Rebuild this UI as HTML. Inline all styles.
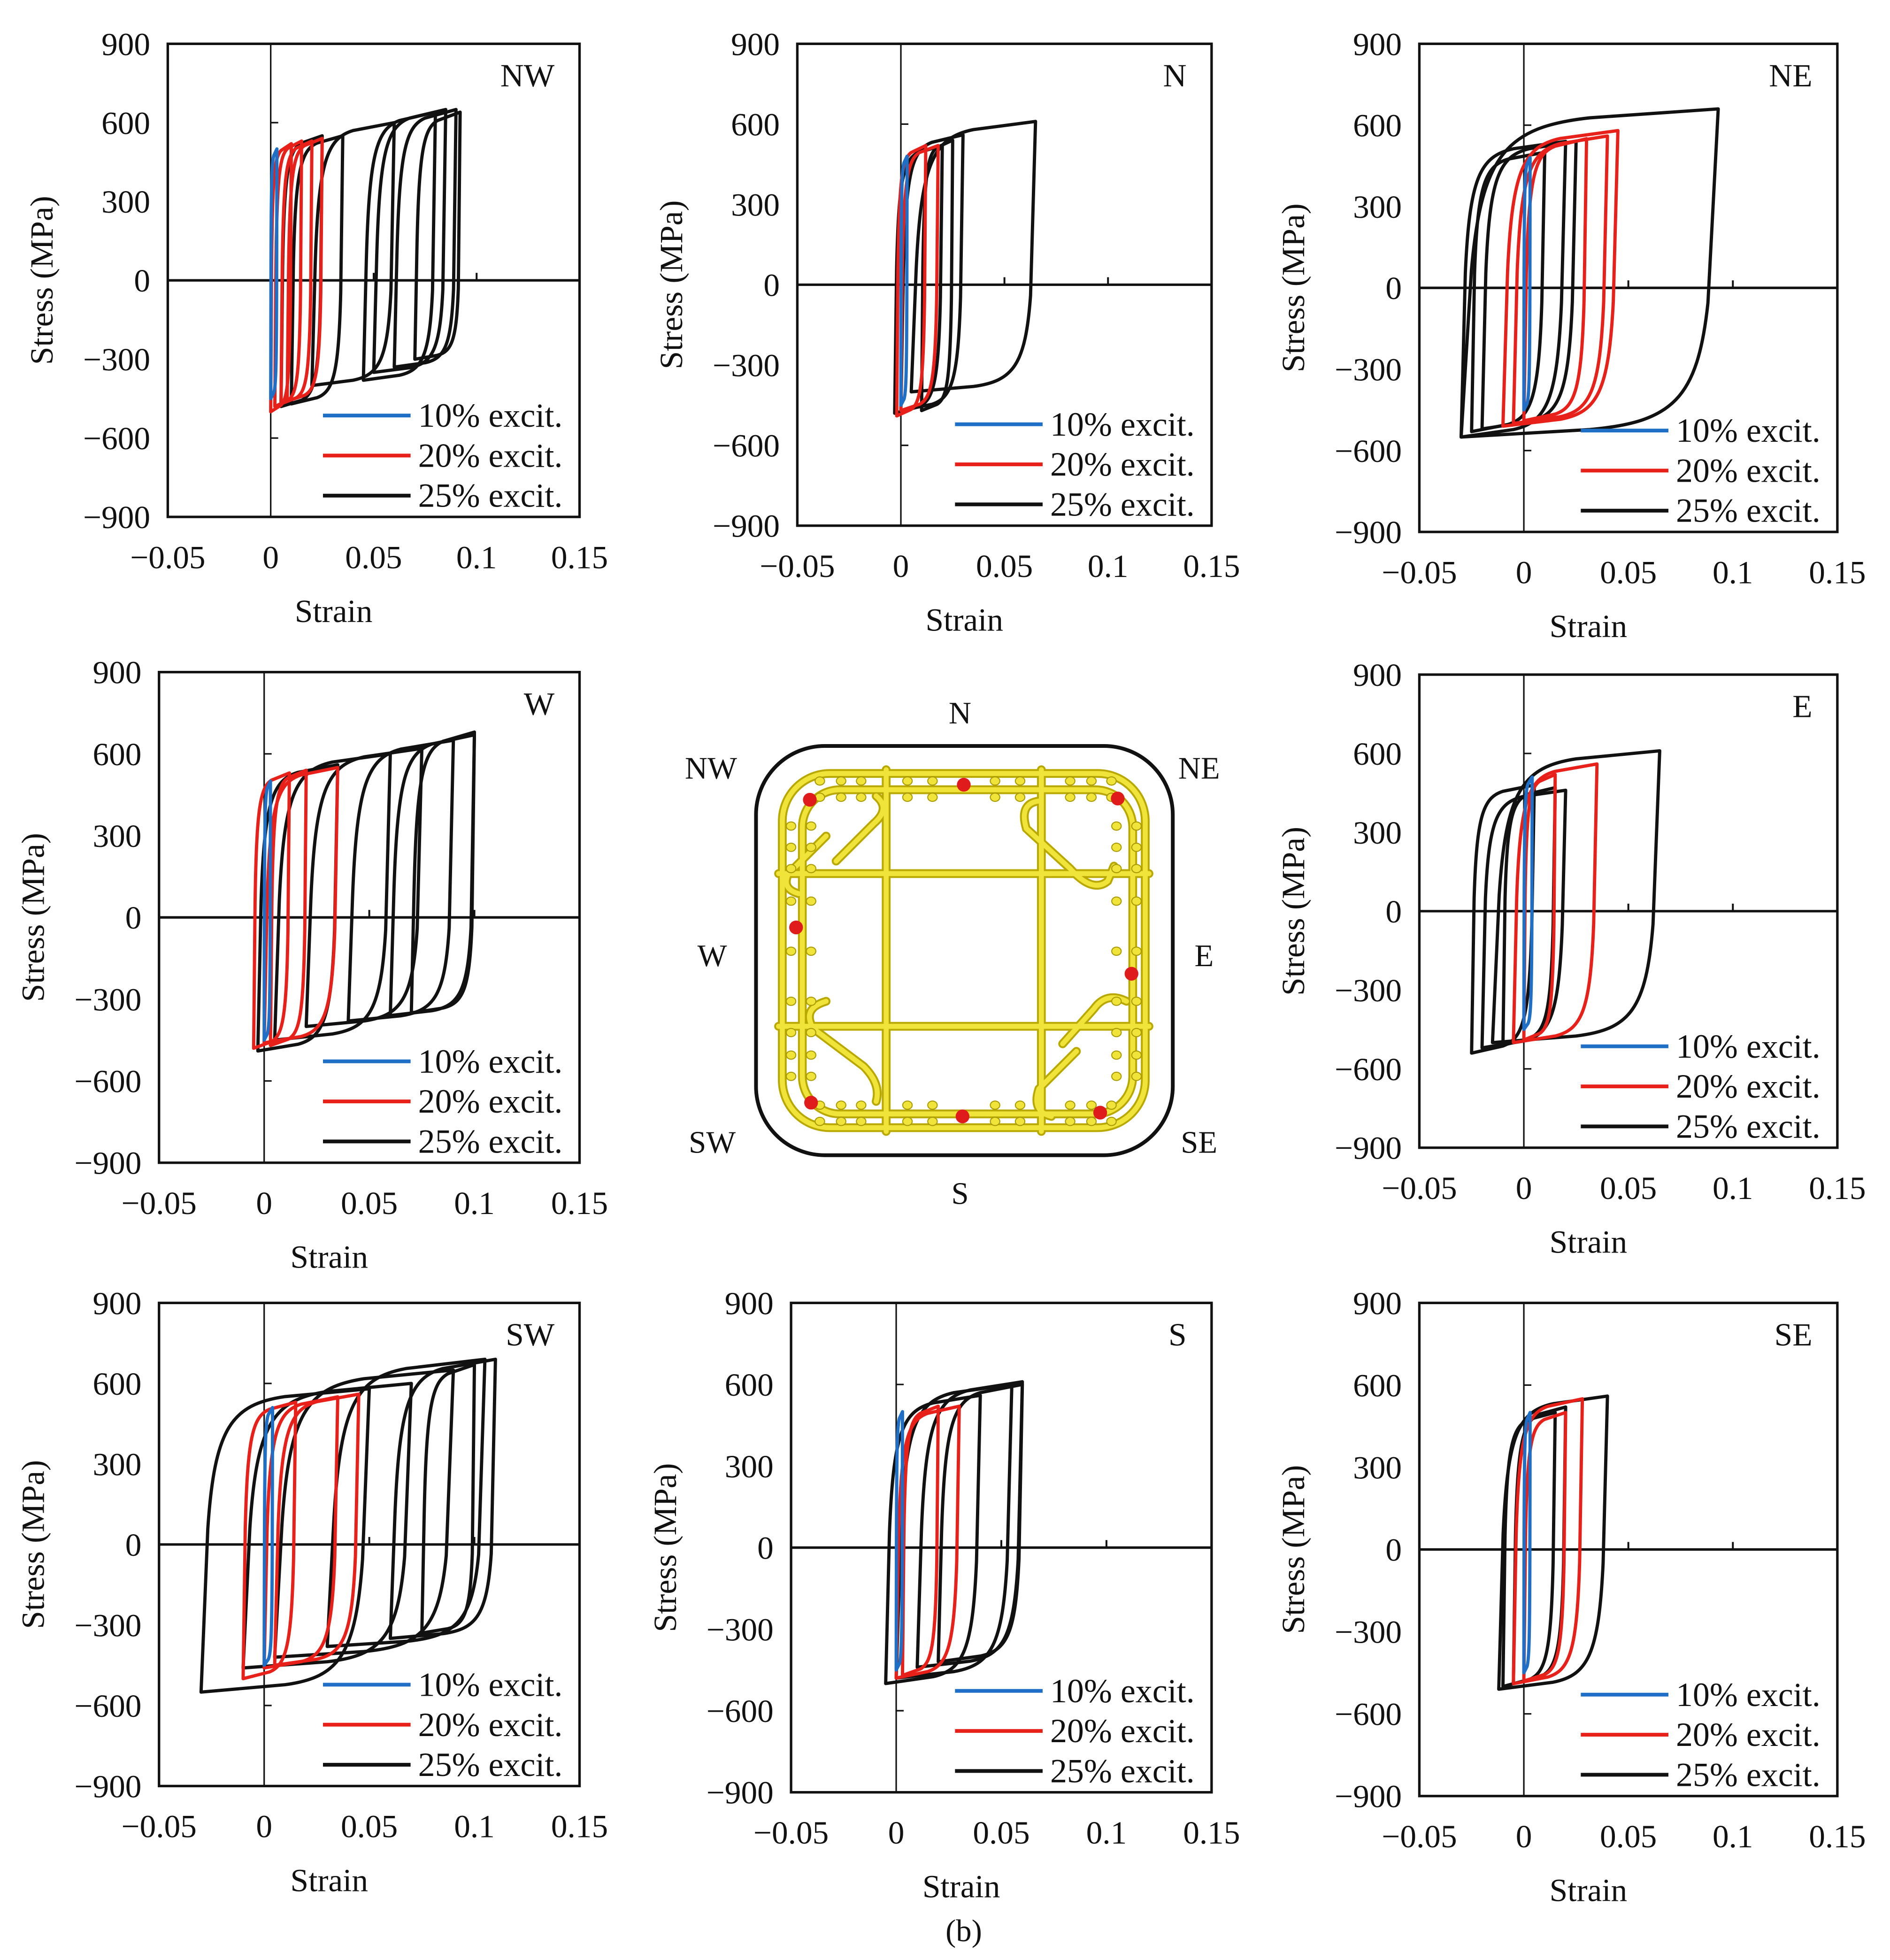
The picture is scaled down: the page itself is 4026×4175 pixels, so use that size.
<!DOCTYPE html>
<html><head><meta charset="utf-8">
<style>
html,body{margin:0;padding:0;background:#fff;}
svg{display:block;}
text{font-family:"Liberation Serif","DejaVu Serif",serif;fill:#111;}
</style></head>
<body>
<svg id="fig" width="4026" height="4175" viewBox="0 0 1510 1566" xmlns="http://www.w3.org/2000/svg">
<rect x="0" y="0" width="1510" height="1566" fill="#fff"/>
<g id="panels"></g>
<g id="section">
  <rect x="604" y="596" width="333" height="327" rx="55" fill="#fff" stroke="#111" stroke-width="3"/>
  <g fill="none" stroke="#b8a800" stroke-width="7" stroke-linecap="round">
    <rect x="625" y="618" width="290" height="283" rx="38"/>
    <rect x="641" y="631" width="264" height="259" rx="30"/>
    <line x1="622" y1="698" x2="918" y2="698"/>
    <line x1="622" y1="820" x2="918" y2="820"/>
    <line x1="708" y1="615" x2="708" y2="904"/>
    <line x1="832" y1="615" x2="832" y2="904"/>
    <path d="M700,636 q12,10 -2,22 l-30,30 M660,668 l-30,30 q-6,12 8,16"/>
    <path d="M830,640 q-16,2 -10,22 l35,32 q18,20 30,10 l5,-12"/>
    <path d="M660,800 q-20,6 -10,22 l40,30 q14,14 10,28"/>
    <path d="M900,800 q-16,-8 -26,6 l-25,28 M860,840 l-30,30 q-6,18 10,22"/>
  </g>
  <g fill="none" stroke="#f0e33a" stroke-width="4" stroke-linecap="round">
    <rect x="625" y="618" width="290" height="283" rx="38"/>
    <rect x="641" y="631" width="264" height="259" rx="30"/>
    <line x1="622" y1="698" x2="918" y2="698"/>
    <line x1="622" y1="820" x2="918" y2="820"/>
    <line x1="708" y1="615" x2="708" y2="904"/>
    <line x1="832" y1="615" x2="832" y2="904"/>
    <path d="M700,636 q12,10 -2,22 l-30,30 M660,668 l-30,30 q-6,12 8,16"/>
    <path d="M830,640 q-16,2 -10,22 l35,32 q18,20 30,10 l5,-12"/>
    <path d="M660,800 q-20,6 -10,22 l40,30 q14,14 10,28"/>
    <path d="M900,800 q-16,-8 -26,6 l-25,28 M860,840 l-30,30 q-6,18 10,22"/>
  </g>
  <g id="smallbars" fill="#f0e33a" stroke="#a89a00" stroke-width="0.8"></g>
  <g fill="#e01b1b">
    <circle cx="647" cy="639" r="5.5"/><circle cx="770" cy="627" r="5.5"/><circle cx="893" cy="638" r="5.5"/>
    <circle cx="636" cy="741" r="5.5"/><circle cx="904" cy="778" r="5.5"/><circle cx="648" cy="881" r="5.5"/>
    <circle cx="769" cy="892" r="5.5"/><circle cx="879" cy="889" r="5.5"/>
  </g>
  <g font-size="25" text-anchor="middle">
    <text x="767" y="578">N</text><text x="767" y="962">S</text>
    <text x="569" y="772">W</text><text x="962" y="772">E</text>
    <text x="568" y="622">NW</text><text x="958" y="622">NE</text>
    <text x="569" y="921">SW</text><text x="958" y="921">SE</text>
  </g>
</g>
<text x="770" y="1551" font-size="25" text-anchor="middle">(b)</text>
</svg>
<script>
// Loop data: each loop = [strainMin, strainMax, stressMax, stressMin]
const NW_black=[[0.005,0.025,550,-480],[0.01,0.035,550,-470],[0.02,0.06,600,-400],[0.045,0.08,640,-380],[0.05,0.085,650,-350],[0.06,0.09,650,-330],[0.07,0.092,640,-300]];
const NW_red=[[0,0.01,520,-500],[0.002,0.015,530,-480],[0.005,0.02,530,-470],[0.008,0.025,540,-460]];
const NW_blue=[[0,0.003,500,-450]];
const N_black=[[-0.003,0.02,520,-480],[0,0.03,560,-470],[0.005,0.065,610,-400],[0.01,0.025,540,-470]];
const N_red=[[-0.002,0.012,520,-490],[0,0.018,520,-470]];
const N_blue=[[0,0.003,480,-450]];
const NE_black=[[-0.03,0.02,540,-550],[-0.025,0.01,500,-530],[-0.02,0.025,540,-520],[-0.03,0.093,660,-550]];
const NE_red=[[-0.01,0.045,580,-510],[-0.005,0.04,560,-500],[0,0.03,550,-490]];
const NE_blue=[[0,0.003,480,-450]];
const W_black=[[-0.003,0.035,560,-490],[0.005,0.06,600,-450],[0.02,0.075,620,-400],[0.04,0.09,650,-380],[0.06,0.1,670,-360],[0.07,0.1,680,-350]];
const W_red=[[-0.005,0.012,530,-480],[0,0.035,550,-460],[0.003,0.02,540,-470]];
const W_blue=[[0,0.003,500,-450]];
const E_black=[[-0.025,0.005,480,-540],[-0.02,0.02,460,-520],[-0.015,0.065,610,-500],[-0.01,0.015,470,-510]];
const E_red=[[-0.005,0.035,560,-500],[0,0.015,520,-490]];
const E_blue=[[0,0.004,510,-450]];
const SW_black=[[-0.03,0.05,580,-550],[-0.01,0.07,600,-460],[0.005,0.09,650,-420],[0.03,0.105,690,-380],[0.06,0.11,690,-350],[0.075,0.1,670,-330]];
const SW_red=[[-0.01,0.015,530,-500],[0,0.035,550,-460],[0.005,0.045,560,-450]];
const SW_blue=[[0,0.004,510,-450]];
const S_black=[[-0.005,0.04,560,-500],[0,0.055,600,-480],[0.01,0.06,610,-440],[0.02,0.06,600,-420]];
const S_red=[[0,0.03,520,-480],[0.003,0.02,520,-470]];
const S_blue=[[0,0.003,500,-450]];
const SE_black=[[-0.012,0.04,560,-510],[-0.01,0.015,500,-500],[-0.005,0.02,520,-490]];
const SE_red=[[-0.005,0.028,550,-490],[0,0.02,500,-480]];
const SE_blue=[[0,0.003,500,-450]];
const xTicks=[-0.05,0,0.05,0.1,0.15];
const xTickLabels=["\u22120.05","0","0.05","0.1","0.15"];
const yTicks=[900,600,300,0,-300,-600,-900];
const yTickLabels=["900","600","300","0","\u2212300","\u2212600","\u2212900"];
const legendLabels=["10% excit.","20% excit.","25% excit."];

const NS="http://www.w3.org/2000/svg";
function mk(tag,attrs,parent){const e=document.createElementNS(NS,tag);for(const k in attrs)e.setAttribute(k,attrs[k]);parent.appendChild(e);return e;}
const panels=[
 {id:"NW",box:[134,35,463,413],b:NW_black,r:NW_red,u:NW_blue},
 {id:"N",box:[637,35,968,420],b:N_black,r:N_red,u:N_blue},
 {id:"NE",box:[1134,35,1468,425],b:NE_black,r:NE_red,u:NE_blue},
 {id:"W",box:[127,537,463,929],b:W_black,r:W_red,u:W_blue},
 {id:"E",box:[1134,539,1468,917],b:E_black,r:E_red,u:E_blue},
 {id:"SW",box:[127,1041,463,1427],b:SW_black,r:SW_red,u:SW_blue},
 {id:"S",box:[632,1041,968,1432],b:S_black,r:S_red,u:S_blue},
 {id:"SE",box:[1134,1041,1468,1435],b:SE_black,r:SE_red,u:SE_blue}
];
const root=document.getElementById('panels');
panels.forEach(p=>{
  const [x0,y0,x1,y1]=p.box;
  const sx=v=>x0+(v+0.05)/0.2*(x1-x0);
  const sy=v=>y0+(900-v)/1800*(y1-y0);
  const g=mk('g',{},root);
  
  
  const clipId='clip'+p.id;
  const cp=mk('clipPath',{id:clipId},g);mk('rect',{x:x0,y:y0,width:x1-x0,height:y1-y0},cp);
  const vz=mk('line',{x1:sx(0),y1:y0,x2:sx(0),y2:y1,stroke:'#111','stroke-width':1.2},g);
  
  
  const hz=mk('line',{x1:x0,y1:sy(0),x2:x1,y2:sy(0),stroke:'#111','stroke-width':2},g);
  
  
  [0.05,0.1].forEach(t=>mk('line',{x1:sx(t),y1:sy(0),x2:sx(t),y2:sy(0)-6,stroke:'#111','stroke-width':1.5},g));
  [600,-600].forEach(t=>mk('line',{x1:sx(0),y1:sy(t),x2:sx(0)+6,y2:sy(t),stroke:'#111','stroke-width':1.2},g));
  const cg=mk('g',{'clip-path':'url(#'+clipId+')',fill:'none','stroke-width':2.6,'stroke-linejoin':'round'},g);
  function loop(L,color,name){
    const [a,b,hi,lo]=L;const w=b-a;
    const d=`M${sx(a)},${sy(lo)} L${sx(a+0.04*w)},${sy(hi*0.1)} C${sx(a+0.08*w)},${sy(hi*0.75)} ${sx(a+0.18*w)},${sy(hi*0.9)} ${sx(a+0.5*w)},${sy(hi*0.95)} L${sx(b)},${sy(hi)} L${sx(b-0.04*w)},${sy(lo*0.1)} C${sx(b-0.08*w)},${sy(lo*0.75)} ${sx(b-0.18*w)},${sy(lo*0.9)} ${sx(b-0.5*w)},${sy(lo*0.95)} Z`;
    const e=mk('path',{d:d,stroke:color},cg);
    
    
  }
  p.b.forEach(L=>loop(L,'#111','loop-25pct'));
  p.r.forEach(L=>loop(L,'#e8201a','loop-20pct'));
  p.u.forEach(L=>loop(L,'#1f6fc6','loop-10pct'));
  const fr=mk('rect',{x:x0,y:y0,width:x1-x0,height:y1-y0,fill:'none',stroke:'#111','stroke-width':2},g);
  
  
  xTicks.forEach((t,i)=>{const e=mk('text',{x:sx(t),y:y1+41,'font-size':26,'text-anchor':'middle'},g);e.textContent=xTickLabels[i];
    
    });
  yTicks.forEach((t,i)=>{const e=mk('text',{x:x0-14,y:sy(t)+9,'font-size':26,'text-anchor':'end'},g);e.textContent=yTickLabels[i];
    
    });
  const xt=mk('text',{x:(x0+x1)/2-32,y:y1+84,'font-size':26,'text-anchor':'middle'},g);xt.textContent='Strain';
  
  
  const yc=(y0+y1)/2;
  const yt=mk('text',{x:0,y:0,'font-size':26,'text-anchor':'middle',transform:`translate(${x0-92},${yc}) rotate(-90)`},g);yt.textContent='Stress (MPa)';
  
  
  const lab=mk('text',{x:x1-20,y:y0+34,'font-size':26,'text-anchor':'end'},g);lab.textContent=p.id;
  
  
  const cols=['#1f6fc6','#e8201a','#111'];
  legendLabels.forEach((s,i)=>{
    const yy=y1-81+i*32;
    const lg=mk('g',{},g);
    
    
    mk('line',{x1:x1-205,y1:yy,x2:x1-135,y2:yy,stroke:cols[i],'stroke-width':3},lg);
    const t=mk('text',{x:x1-129,y:yy+9,'font-size':27},lg);t.textContent=s;
  });
});
const sb=document.getElementById('smallbars');
const topX=[655,672,688,725,745,795,815,855,872,888];
topX.forEach(x=>{mk('ellipse',{cx:x,cy:624,rx:3.8,ry:3.3},sb);mk('ellipse',{cx:x,cy:896,rx:3.8,ry:3.3},sb);mk('ellipse',{cx:x,cy:637,rx:3.8,ry:3.3},sb);mk('ellipse',{cx:x,cy:883,rx:3.8,ry:3.3},sb);});
const sideY=[660,677,694,720,760,800,825,843,860];
sideY.forEach(y=>{mk('ellipse',{cx:632,cy:y,rx:3.8,ry:3.3},sb);mk('ellipse',{cx:648,cy:y,rx:3.8,ry:3.3},sb);mk('ellipse',{cx:892,cy:y,rx:3.8,ry:3.3},sb);mk('ellipse',{cx:908,cy:y,rx:3.8,ry:3.3},sb);});
</script>
</body></html>
